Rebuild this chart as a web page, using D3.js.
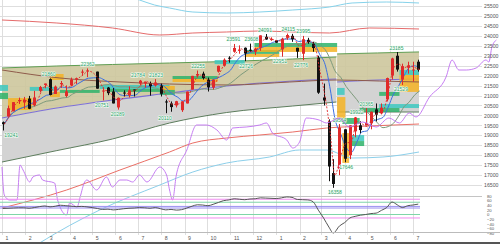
<!DOCTYPE html>
<html>
<head>
<meta charset="utf-8">
<script src="https://cdn.jsdelivr.net/npm/d3@7/dist/d3.min.js"></script>
<style>
body { margin: 0; background: #fff; }
svg { display: block; font-family: "Liberation Sans", sans-serif; }
</style>
</head>
<body>
<svg id="chart" width="500" height="244"></svg>
<script>
// weekly candles, week ending dates
var weeks = ["2019-01-04","2019-01-11","2019-01-18","2019-01-25","2019-02-01","2019-02-08","2019-02-15","2019-02-22",
  "2019-03-01","2019-03-08","2019-03-15","2019-03-22","2019-03-29","2019-04-05","2019-04-12","2019-04-19","2019-04-26",
  "2019-05-10","2019-05-17","2019-05-24","2019-05-31","2019-06-07","2019-06-14","2019-06-21","2019-06-28",
  "2019-07-05","2019-07-12","2019-07-19","2019-07-26","2019-08-02","2019-08-09","2019-08-16","2019-08-23","2019-08-30",
  "2019-09-06","2019-09-13","2019-09-20","2019-09-27","2019-10-04","2019-10-11","2019-10-18","2019-10-25",
  "2019-11-01","2019-11-08","2019-11-15","2019-11-22","2019-11-29","2019-12-06","2019-12-13","2019-12-20","2019-12-27",
  "2020-01-03","2020-01-10","2020-01-17","2020-01-24","2020-01-31","2020-02-07","2020-02-14","2020-02-21","2020-02-28",
  "2020-03-06","2020-03-13","2020-03-19","2020-03-27","2020-04-03","2020-04-10","2020-04-17","2020-04-24",
  "2020-05-01","2020-05-08","2020-05-15","2020-05-22","2020-05-29","2020-06-05","2020-06-12","2020-06-19","2020-06-26",
  "2020-07-03","2020-07-10"];
var opens = [19655,19944,20205,20719,20649,20844,20502,21236,21528,21822,21079,21566,20977,21509,21807,22169,22217,
  22200,21200,21400,21200,20400,21150,21000,21300,21600,21600,21600,21500,21500,20700,20600,20500,20261,20600,21300,
  22000,22100,21800,21400,22200,22500,22900,23200,23300,23400,23300,23200,23400,23950,23800,
  23770,23319,23900,24000,23400,23100,23800,23600,22900,20900,19700,17100,17300,19300,18000,19200,19500,19500,19600,
  20300,20100,20800,22000,23000,21800,22400,22300,22700];
var highs = [19692,20494,20666,20892,20929,20981,21235,21482,21602,21860,21502,21730,21508,21900,21900,22307,22362,
  22200,21415,21430,21375,20900,21260,21462,21300,21784,21700,21700,21823,21600,20800,20700,20731,20704,21200,21988,
  22255,22200,21900,21800,22500,22867,22974,23591,23520,23416,23608,23400,24023,24091,23924,
  23770,23903,24115,24100,23400,23995,23900,23700,23000,21600,19800,17800,19564,19300,19500,19922,19700,20365,20200,
  20600,20600,21900,22900,23185,22600,22700,22700,22800];
var lows = [19241,19944,20205,20574,20331,20315,20454,21155,21364,21008,21079,21388,20911,21468,21580,22000,21925,
  21343,20751,21018,20601,20289,20950,20900,20950,21500,21400,20993,21450,20950,20110,20184,20400,20173,20600,21300,
  21900,21800,21200,21300,22150,22450,22650,23150,23100,22726,23200,23030,23250,23800,23750,
  23656,22951,23800,23700,22892,22776,23600,23200,21082,20500,16690,16358,16995,17646,17800,18900,19100,19500,19300,
  19700,20050,20700,21800,22200,21529,22100,21700,22200];
var closes = [19561,20359,20666,20773,20788,20333,20900,21425,21602,21025,21450,21627,21205,21807,21870,22200,22258,
  21344,21250,21117,20601,20884,21116,21258,21275,21746,21685,21466,21658,21087,20684,20418,20711,20704,21199,21988,
  22079,21878,21410,21798,22492,22800,22850,23391,23303,23113,23293,23354,24023,23816,23837,
  23656,23850,24041,23827,23205,23828,23687,23386,21143,20749,17431,16552,19389,17820,19498,19897,19262,19619,20179,
  20037,20388,21877,22863,22305,22478,22512,22306,22290];
// oscillator (lower panel), one per week
var osc = [26,27,28,29,29,27,30,34,37,33,36,40,38,36,34,35,33,26,22,23,20,22,25,27,28,30,29,27,30,25,20,22,19,21,
  28,36,42,41,38,44,52,60,63,68,66,64,67,68,72,71,70,
  69,72,76,74,65,64,63,55,19,-15,-54,-80,-50,-35,-15,-8,-3,0,4,6,18,30,54,42,30,38,41,45];

// channel bands
var ch1Dates = ["2019-01-01","2019-03-15","2019-05-28","2019-08-12","2019-10-27","2020-01-23","2020-03-21"];
var ch1Top = [22383,22484,22559,22634,22710,22835,22936];
var ch1Mid = [19869,20372,20774,21126,21478,21729,21830];
var ch1Bot = [17656,18230,18813,19617,20145,20472,20673];
var ch2Dates = ["2020-03-22","2020-05-15","2020-07-09"];
var ch2Top = [23090,23140,23190];
var ch2Mid = [21680,21780,21830];
var ch2Bot = [20170,20170,20170];

// long lines on the price scale
var upRedDates = ["2019-01-01","2019-03-15","2019-05-28","2019-07-30","2019-09-12","2019-10-27","2019-12-10","2020-01-23","2020-03-12","2020-05-04","2020-07-09"];
var upRedVals = [24796,24645,24394,24042,24142,24193,24243,24193,24142,24394,24344];
var upCyanDates = ["2019-05-11","2019-06-07","2019-07-03","2019-07-23","2019-08-12","2019-09-12","2019-10-27","2019-12-10","2020-01-23","2020-03-12","2020-04-11","2020-05-27","2020-07-09"];
var upCyanVals = [26405,26103,25802,25550,25400,25198,25148,25198,25299,25450,25651,25701,25651];
var brownDates = ["2019-01-01","2019-03-19","2019-06-07","2019-08-12","2019-10-31","2020-01-19","2020-03-21","2020-05-17","2020-07-09"];
var brownVals = [22282,21880,21679,21578,21528,21679,21779,21729,21679];

// comparison line and its averages (own scale)
var purpleDates = ["2019-01-01","2019-01-04","2019-01-11","2019-01-21","2019-01-25","2019-01-29","2019-02-07","2019-02-11",
  "2019-02-20","2019-02-24","2019-03-12","2019-03-16","2019-03-28","2019-04-01","2019-04-11","2019-04-15","2019-04-21",
  "2019-04-24","2019-05-07","2019-05-20","2019-05-28","2019-06-07","2019-06-16","2019-06-24","2019-07-03","2019-07-13",
  "2019-07-30","2019-08-08","2019-08-12","2019-08-16","2019-08-21","2019-09-04","2019-09-17","2019-09-30","2019-10-14",
  "2019-10-27","2019-11-04","2019-11-22","2019-12-10","2019-12-19","2019-12-27","2020-01-15","2020-01-23","2020-02-01",
  "2020-02-10","2020-02-27","2020-03-08","2020-03-25","2020-04-07","2020-04-25","2020-05-13","2020-05-30","2020-06-13",
  "2020-06-26","2020-07-05","2020-07-23","2020-08-14","2020-08-22","2020-08-31","2020-09-10","2020-09-23","2020-10-06",
  "2020-10-10","2020-10-14","2020-10-20"];
var purpleVals = [21.5,7.5,5,5,22.5,20,14,16.5,17.5,15,13.5,5,-2.5,3.5,1.5,6.5,14,15,10,16.5,11.5,15,15,14,17.5,14,
  21.5,17.5,10,5,17.5,30,42.5,42.5,40,35,41,41.5,42.5,43.5,38.5,35,31,34,46,45,43.5,46,41.5,44,41.5,46,43.5,48.5,46.5,
  56.5,66.5,75,70,70,71,75,74,81.5,85];
var lowRedDates = ["2019-01-01","2019-03-28","2019-06-07","2019-08-12","2019-09-12","2019-10-27","2019-12-10","2020-01-23","2020-03-08","2020-05-04","2020-07-09"];
var lowRedVals = [1,10,20,29,33.5,36,37.5,39,41,42,43];
var lowCyanDates = ["2019-01-01","2019-02-20","2019-05-11","2019-07-30","2019-09-12","2019-10-27","2019-12-23","2020-02-01","2020-03-08","2020-04-11","2020-05-22","2020-07-09"];
var lowCyanVals = [-29,-16.5,0,12.5,19,23.5,26.5,30,30,26,26.5,29];

// support / resistance boxes
var boxFrom = ["2018-12-29","2018-12-29","2019-01-09","2019-02-07","2019-03-06","2019-03-06","2019-03-19","2019-05-11",
  "2019-05-24","2019-07-30","2019-07-30","2019-08-16","2019-08-16","2019-10-11","2019-11-20","2019-11-20","2019-12-03",
  "2019-12-03","2020-03-22","2020-03-22","2020-03-29","2020-03-29","2020-04-07","2020-04-07","2020-04-21","2020-05-17",
  "2020-06-13","2020-06-13","2020-05-17"];
var boxTo = ["2019-01-09","2019-01-09","2019-02-10","2019-03-16","2019-03-19","2019-03-24","2019-05-11","2019-08-12",
  "2019-08-06","2019-08-19","2019-08-19","2019-10-15","2019-10-15","2019-11-20","2020-01-05","2020-01-05","2020-03-22",
  "2020-03-22","2020-04-01","2020-04-02","2020-04-21","2020-04-07","2020-04-27","2020-04-27","2020-06-13","2020-07-09",
  "2020-07-09","2020-07-09","2020-06-13"];
var boxHi = [21530,21130,20870,21430,21180,22080,21280,21530,21330,21480,21280,21980,21830,22780,23290,23090,23640,
  23440,21380,20920,19870,19110,19010,18710,20370,20570,22280,22030,21180];
var boxLo = [21230,20820,20270,21230,20920,21780,21130,21330,21180,21280,21030,21830,21680,22580,23090,22940,23440,
  23190,21030,19770,19570,17610,18710,18460,20170,20370,22030,21180,20980];
var boxKind = ["t","g","o","t","o","o","g","t","g","o","g","g","o","t","g","o","g","o","t","o","g","o","t","g","g","t","t","o","g"];

// swing labels
var labelDates = ["2019-01-04","2019-03-04","2019-04-25","2019-05-14","2019-06-04","2019-07-01","2019-07-25","2019-08-06",
  "2019-09-19","2019-11-05","2019-11-22","2019-11-29","2019-12-17","2020-01-06","2020-01-17","2020-02-03","2020-02-06",
  "2020-03-19","2020-03-25","2020-04-03","2020-04-17","2020-04-30","2020-06-09","2020-06-15"];
var labelVals = [19241,21860,22362,20751,20289,21784,21823,20110,22255,23591,22726,23608,24091,22951,24115,22776,23995,
  16358,19564,17646,19922,20365,23185,21529];
var labelSide = ["l","h","h","l","l","h","h","l","h","h","l","h","h","l","h","l","h","l","h","l","h","h","h","l"];

var priceTicks = d3.range(16500, 25501, 500);
var oscTicks = [80, 60, 40, 20, 0, -20, -40, -60, -80];
var oscLevels = [66, 53, 35, 28, 0, -15];

var parse = d3.timeParse("%Y-%m-%d");
var svg = d3.select("#chart");
var plotRight = 482;

var x = d3.scaleTime().domain([parse("2019-01-01"), parse("2020-07-01")]).range([2, 413]);
var y = d3.scaleLinear().domain([16500, 25500]).range([185, 6]);
var yP = d3.scaleLinear().domain([0, 100]).range([210, 10]);
var yO = d3.scaleLinear().domain([-80, 80]).range([233, 196]);

function zip(dates, vals) {
  return dates.map(function(d, i) { return {date: parse(d), v: vals[i]}; });
}
function movingAvg(vals, n) {
  return vals.map(function(v, i) { return d3.mean(vals.slice(Math.max(0, i - n + 1), i + 1)); });
}

// grid
svg.append("g").selectAll("line").data(priceTicks).join("line")
  .attr("x1", 0).attr("x2", plotRight)
  .attr("y1", function(d) { return Math.round(y(d)) + 0.5; })
  .attr("y2", function(d) { return Math.round(y(d)) + 0.5; })
  .attr("stroke", "#dedede").attr("stroke-width", 1);

var months = d3.timeMonth.range(parse("2019-01-01"), parse("2020-08-01"));
svg.append("g").selectAll("line").data(months).join("line")
  .attr("x1", function(d) { return Math.round(x(d)) + 0.5; })
  .attr("x2", function(d) { return Math.round(x(d)) + 0.5; })
  .attr("y1", 0).attr("y2", 235)
  .attr("stroke", "#dedede").attr("stroke-width", 1);

// channels
var band = d3.area().curve(d3.curveMonotoneX)
  .x(function(d) { return x(d.date); })
  .y0(function(d) { return y(d.lo); })
  .y1(function(d) { return y(d.hi); });
var edge = d3.line().curve(d3.curveMonotoneX)
  .x(function(d) { return x(d.date); })
  .y(function(d) { return y(d.v); });

function drawChannel(dates, top, mid, bot) {
  var upper = dates.map(function(d, i) { return {date: parse(d), hi: top[i], lo: mid[i]}; });
  var lower = dates.map(function(d, i) { return {date: parse(d), hi: mid[i], lo: bot[i]}; });
  svg.append("path").datum(upper).attr("d", band).attr("fill", "#cdc79c").attr("opacity", 0.9);
  svg.append("path").datum(lower).attr("d", band).attr("fill", "#d3d3d3");
  svg.append("path").datum(zip(dates, top)).attr("d", edge).attr("fill", "none").attr("stroke", "#5f9d52").attr("stroke-width", 1);
  svg.append("path").datum(zip(dates, mid)).attr("d", edge).attr("fill", "none").attr("stroke", "#7d70d6").attr("stroke-width", 1.2);
  svg.append("path").datum(zip(dates, bot)).attr("d", edge).attr("fill", "none").attr("stroke", "#5d7d5d").attr("stroke-width", 1);
}
drawChannel(ch1Dates, ch1Top, ch1Mid, ch1Bot);
drawChannel(ch2Dates, ch2Top, ch2Mid, ch2Bot);

// boxes
var boxColor = {o: "#f5b324", g: "#2eb36a", t: "#3cc8c0"};
svg.append("g").selectAll("rect").data(boxFrom).join("rect")
  .attr("x", function(d) { return x(parse(d)); })
  .attr("width", function(d, i) { return x(parse(boxTo[i])) - x(parse(d)); })
  .attr("y", function(d, i) { return y(boxHi[i]); })
  .attr("height", function(d, i) { return y(boxLo[i]) - y(boxHi[i]); })
  .attr("fill", function(d, i) { return boxColor[boxKind[i]]; })
  .attr("opacity", 0.85);

// long lines
function drawLine(data, scale, color, width, dash) {
  var gen = d3.line().curve(d3.curveMonotoneX)
    .x(function(d) { return x(d.date); })
    .y(function(d) { return scale(d.v); });
  var p = svg.append("path").datum(data).attr("d", gen).attr("fill", "none")
    .attr("stroke", color).attr("stroke-width", width);
  if (dash) p.attr("stroke-dasharray", dash);
  return p;
}
drawLine(zip(upRedDates, upRedVals), y, "#e56b6b", 1);
drawLine(zip(upCyanDates, upCyanVals), y, "#86d2ea", 1);
drawLine(zip(brownDates, brownVals), y, "#8f5b4b", 1);
drawLine(zip(lowRedDates, lowRedVals), yP, "#ea6f66", 1);
drawLine(zip(lowCyanDates, lowCyanVals), yP, "#8ccfea", 1);

// moving averages of the weekly closes
var ma2 = movingAvg(closes, 2), ma5 = movingAvg(closes, 5), ma13 = movingAvg(closes, 13);
drawLine(zip(weeks, ma13), y, "#7d9a7c", 1);
drawLine(zip(weeks, ma5), y, "#3b6fe2", 1);

// candles
var cw = 3;
var candles = svg.append("g");
weeks.forEach(function(w, i) {
  var cx = Math.round(x(d3.timeDay.offset(parse(w), -2))) + 0.5;
  var up = closes[i] >= opens[i];
  var col = up ? "#e02a2a" : "#111";
  candles.append("line").attr("x1", cx).attr("x2", cx)
    .attr("y1", y(highs[i])).attr("y2", y(lows[i]))
    .attr("stroke", col).attr("stroke-width", 1);
  var top = y(Math.max(opens[i], closes[i])), bot = y(Math.min(opens[i], closes[i]));
  candles.append("rect").attr("x", cx - cw / 2).attr("width", cw)
    .attr("y", top).attr("height", Math.max(1, bot - top))
    .attr("fill", col);
});
drawLine(zip(weeks, ma2), y, "#e02a2a", 0.9, "2,1.5");

// swing labels
svg.append("g").selectAll("text").data(labelDates).join("text")
  .attr("x", function(d) { return Math.max(0, x(parse(d))); })
  .attr("y", function(d, i) { return labelSide[i] === "h" ? y(labelVals[i]) - 2.5 : y(labelVals[i]) + 6.5; })
  .attr("text-anchor", function(d) { return x(parse(d)) < 10 ? "start" : "middle"; })
  .attr("font-size", "5px")
  .attr("fill", "#2f9d68")
  .attr("stroke", "#f4fff8").attr("stroke-width", 1.1).attr("paint-order", "stroke")
  .text(function(d, i) { return labelVals[i]; });

// comparison line
drawLine(zip(purpleDates, purpleVals), yP, "#c06ff0", 0.9);

// lower panel
svg.append("line").attr("x1", 0).attr("x2", plotRight).attr("y1", 196.5).attr("y2", 196.5)
  .attr("stroke", "#c4c4c4");
var levelColor = ["#f08cf0", "#7fd6a8", "#9a90f0", "#9a90f0", "#7fd6a8", "#f08cf0"];
svg.append("g").selectAll("line").data(oscLevels).join("line")
  .attr("x1", 0).attr("x2", 420)
  .attr("y1", function(d) { return yO(d); }).attr("y2", function(d) { return yO(d); })
  .attr("stroke", function(d, i) { return levelColor[i]; }).attr("stroke-width", 1);
svg.append("path").datum(zip(weeks, osc))
  .attr("d", d3.line().curve(d3.curveMonotoneX)
    .x(function(d) { return x(d3.timeDay.offset(d.date, -2)); })
    .y(function(d) { return yO(d.v); }))
  .attr("fill", "none").attr("stroke", "#555").attr("stroke-width", 1);

// axes
var priceAxis = svg.append("g").attr("transform", "translate(" + plotRight + ",0)")
  .call(d3.axisRight(y).tickValues(priceTicks).tickSize(0).tickPadding(2).tickFormat(d3.format("d")));
var oscAxis = svg.append("g").attr("transform", "translate(" + plotRight + ",0)")
  .call(d3.axisRight(yO).tickValues(oscTicks).tickSize(0).tickPadding(5).tickFormat(d3.format("d")));
var monthAxis = svg.append("g").attr("transform", "translate(0,232)")
  .call(d3.axisBottom(x).tickValues(months).tickSize(0).tickPadding(4).tickFormat(d3.timeFormat("%-m")));
[priceAxis, oscAxis, monthAxis].forEach(function(a) {
  a.select(".domain").remove();
  a.selectAll("text").attr("font-size", "5.2px").attr("fill", "#555").attr("font-family", "Liberation Sans, sans-serif");
});
oscAxis.selectAll("text").attr("font-size", "4.2px");
monthAxis.selectAll("text").attr("text-anchor", "start").attr("dx", 3);

svg.append("line").attr("x1", 0).attr("x2", 500).attr("y1", 232.5).attr("y2", 232.5).attr("stroke", "#bbb");
svg.append("rect").attr("x", 0).attr("y", 242).attr("width", 500).attr("height", 2).attr("fill", "#555");
</script>
</body>
</html>
